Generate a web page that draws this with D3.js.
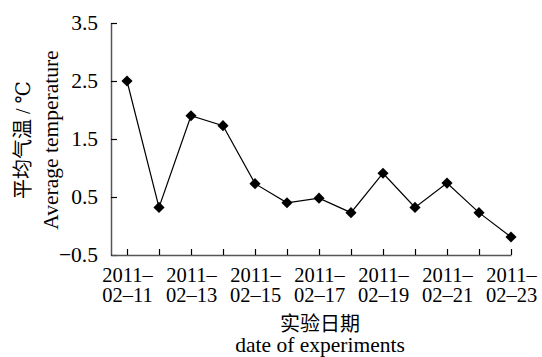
<!DOCTYPE html>
<html>
<head>
<meta charset="utf-8">
<script src="https://cdn.jsdelivr.net/npm/d3@7"></script>
<style>
  body { margin: 0; background: #fff; }
  svg { display: block; }
  text { font-family: "Liberation Serif", "Times New Roman", "Noto Sans CJK SC", serif; fill: #000; }
</style>
</head>
<body>
<svg id="chart" width="542" height="357"></svg>
<script>
const dates = ["2011-02-11","2011-02-12","2011-02-13","2011-02-14","2011-02-15","2011-02-16","2011-02-17",
               "2011-02-18","2011-02-19","2011-02-20","2011-02-21","2011-02-22","2011-02-23"];
const temps = [2.5, 0.32, 1.9, 1.73, 0.73, 0.40, 0.48, 0.23, 0.91, 0.32, 0.74, 0.23, -0.19];
const yTicks = [-0.5, 0.5, 1.5, 2.5, 3.5];
const yTitleCn = "平均气温 / ";
const yTitleUnit = "℃";
const yTitleEn = "Average temperature";
const xTitleCn = "实验日期";
const xTitleEn = "date of experiments";

const FONT = '"Liberation Serif", "Times New Roman", "Noto Sans CJK SC", serif';
const FS = "21.5px";

const svg = d3.select("#chart");
const idx = d3.range(dates.length);

const x = d3.scaleLinear().domain([-0.5, dates.length - 1]).range([111, 511]);
const y = d3.scaleLinear().domain([-0.5, 3.5]).range([255, 23]);

// Y axis
const gy = svg.append("g").attr("transform", "translate(111,0)")
  .call(d3.axisLeft(y).tickValues(yTicks).tickSizeInner(-6).tickSizeOuter(0).tickPadding(13)
        .tickFormat(d3.format(".1f")));
gy.attr("font-family", FONT).attr("font-size", null);
gy.select(".domain").attr("stroke", "#555").attr("stroke-width", 1.5);
gy.selectAll(".tick line").attr("stroke", "#000").attr("stroke-width", 1.2);
gy.selectAll(".tick text").style("font-size", FS).style("font-family", FONT);

// X axis
const gx = svg.append("g").attr("transform", "translate(0,255)")
  .call(d3.axisBottom(x).tickValues(idx).tickSizeInner(-6).tickSizeOuter(0).tickFormat(""));
gx.attr("font-family", FONT).attr("font-size", null);
gx.select(".domain").attr("stroke", "#555").attr("stroke-width", 1.5);
gx.selectAll(".tick line").attr("stroke", "#000").attr("stroke-width", 1.2);
gx.selectAll(".tick text").remove();
gx.selectAll(".tick").filter(i => i % 2 === 0).each(function(i) {
  const parts = dates[i].split("-");
  const g = d3.select(this);
  g.append("text").attr("text-anchor", "middle").attr("x", 0).attr("y", 26.5)
    .style("font-size", "20.5px").style("font-family", FONT).text(parts[0] + "–");
  g.append("text").attr("text-anchor", "middle").attr("x", 0).attr("y", 47)
    .style("font-size", "20.5px").style("font-family", FONT).text(parts[1] + "–" + parts[2]);
});

// Line
const line = d3.line().x((d, i) => x(i)).y(d => y(d));
svg.append("path").datum(temps)
  .attr("fill", "none").attr("stroke", "#000").attr("stroke-width", 1.2)
  .attr("d", line);

// Markers
svg.append("g").selectAll("path").data(temps).join("path")
  .attr("d", d3.symbol(d3.symbolSquare, 62))
  .attr("transform", (d, i) => `translate(${x(i)},${y(d)}) rotate(45)`)
  .attr("fill", "#000");

// Y title
const yt = svg.append("text").attr("transform", "translate(30,140) rotate(-90)")
  .attr("text-anchor", "middle").style("font-size", "20px").style("font-family", FONT);
yt.append("tspan").text(yTitleCn);
yt.append("tspan").style("font-family", '"DejaVu Serif", "Liberation Serif", "Noto Sans CJK SC", serif').text(yTitleUnit);
svg.append("text").attr("transform", "translate(58,140) rotate(-90)")
  .attr("text-anchor", "middle").style("font-size", FS).style("font-family", FONT).text(yTitleEn);

// X title
svg.append("text").attr("x", 320).attr("y", 331)
  .attr("text-anchor", "middle").style("font-size", "20px").style("font-family", FONT).text(xTitleCn);
svg.append("text").attr("x", 320).attr("y", 352)
  .attr("text-anchor", "middle").style("font-size", FS).style("font-family", FONT).text(xTitleEn);
</script>
</body>
</html>
